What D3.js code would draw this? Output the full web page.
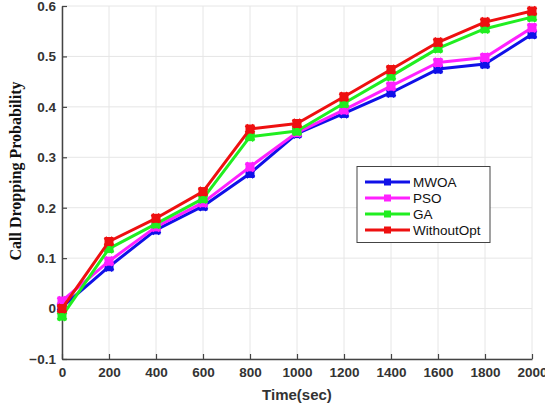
<!DOCTYPE html>
<html><head><meta charset="utf-8">
<script src="https://cdn.jsdelivr.net/npm/d3@7"></script>
<style>body{margin:0;background:#fff;}svg{display:block;}</style>
</head><body>
<script>
const times = [0,200,400,600,800,1000,1200,1400,1600,1800,2000];
const seriesNames = ["MWOA","PSO","GA","WithoutOpt"];
const seriesColors = ["#1010e8","#ff20ff","#20ee20","#ee1010"];
const mwoa = [0.003,0.083,0.156,0.203,0.268,0.347,0.387,0.428,0.475,0.485,0.544];
const pso = [0.015,0.094,0.162,0.210,0.281,0.349,0.394,0.441,0.488,0.498,0.557];
const ga = [-0.015,0.119,0.168,0.218,0.341,0.352,0.407,0.461,0.516,0.555,0.578];
const withoutOpt = [0.000,0.133,0.179,0.232,0.356,0.367,0.420,0.474,0.528,0.568,0.590];
const xTicks = [0,200,400,600,800,1000,1200,1400,1600,1800,2000];
const yTicks = [-0.1,0,0.1,0.2,0.3,0.4,0.5,0.6];
const xLabel = "Time(sec)";
const yLabel = "Call Dropping Probability";

const allSeries = [mwoa,pso,ga,withoutOpt];
const W=545,H=408;
const svg=d3.select("body").append("svg").attr("width",W).attr("height",H);
const x=d3.scaleLinear().domain([0,2000]).range([62,532]);
const y=d3.scaleLinear().domain([-0.1,0.6]).range([359,6]);

// grid
const g=svg.append("g");
g.selectAll(".vx").data(xTicks).enter().append("line")
 .attr("x1",d=>x(d)).attr("x2",d=>x(d)).attr("y1",y(-0.1)).attr("y2",y(0.6))
 .attr("stroke","#e6e6e6").attr("stroke-width",1);
g.selectAll(".hy").data(yTicks).enter().append("line")
 .attr("x1",x(0)).attr("x2",x(2000)).attr("y1",d=>y(d)).attr("y2",d=>y(d))
 .attr("stroke","#e6e6e6").attr("stroke-width",1);

// axes
const fmtY=d=>d===0?"0":d3.format(".1f")(d);
const xAxis=d3.axisBottom(x).tickValues(xTicks).tickSizeInner(-5).tickSizeOuter(0).tickPadding(8).tickFormat(d3.format("d"));
const yAxis=d3.axisLeft(y).tickValues(yTicks).tickSizeInner(-5).tickSizeOuter(0).tickPadding(6).tickFormat(fmtY);
const ax=svg.append("g").attr("transform",`translate(0,${y(-0.1)})`).call(xAxis);
const ay=svg.append("g").attr("transform",`translate(${x(0)},0)`).call(yAxis);
[ax,ay].forEach(a=>{
  a.select(".domain").attr("stroke","#444").attr("stroke-width",1.5);
  a.selectAll(".tick line").attr("stroke","#444").attr("stroke-width",1.2);
  a.selectAll(".tick text").attr("fill","#333").attr("font-family","Liberation Sans, Arial, sans-serif").attr("font-weight","bold").attr("font-size","13.5px");
});
ax.selectAll(".tick text").attr("dy","0.75em");

svg.append("text").attr("x",297).attr("y",400).attr("text-anchor","middle")
 .attr("font-family","Liberation Sans, Arial, sans-serif").attr("font-weight","bold").attr("font-size","15px").attr("fill","#333").text(xLabel);
svg.append("text").attr("transform","translate(21,171) rotate(-90)").attr("text-anchor","middle")
 .attr("font-family","Liberation Serif, Times New Roman, serif").attr("font-weight","bold").attr("font-size","16px").attr("fill","#111").text(yLabel);

// lines
const line=d3.line().x((d,i)=>x(times[i])).y(d=>y(d));
function marker(sel,cx,cy,color){
  sel.append("rect").attr("x",cx-4.5).attr("y",cy-4.5).attr("width",9).attr("height",9).attr("fill",color);
  sel.append("path").attr("d",d3.symbol().type(d3.symbolCross).size(70)()).attr("transform",`translate(${cx},${cy}) rotate(45)`).attr("fill",color);
}
allSeries.forEach((s,k)=>{
  const c=seriesColors[k];
  const gs=svg.append("g");
  gs.append("path").datum(s).attr("d",line).attr("fill","none").attr("stroke",c).attr("stroke-width",3).attr("stroke-linejoin","round");
  s.forEach((v,i)=>marker(gs,x(times[i]),y(v),c));
});

// legend
const lg=svg.append("g");
lg.append("rect").attr("x",357).attr("y",166.5).attr("width",133).attr("height",76).attr("fill","#fff").attr("stroke","#444").attr("stroke-width",1);
seriesNames.forEach((n,k)=>{
  const yy=182+k*16;
  lg.append("line").attr("x1",365).attr("x2",410).attr("y1",yy).attr("y2",yy).attr("stroke",seriesColors[k]).attr("stroke-width",3);
  lg.append("rect").attr("x",384).attr("y",yy-3.5).attr("width",7).attr("height",7).attr("fill",seriesColors[k]);
  lg.append("text").attr("x",413).attr("y",yy+5).attr("font-family","Liberation Sans, Arial, sans-serif").attr("font-size","13.5px").attr("fill","#111").text(n);
});
</script>
</body></html>
